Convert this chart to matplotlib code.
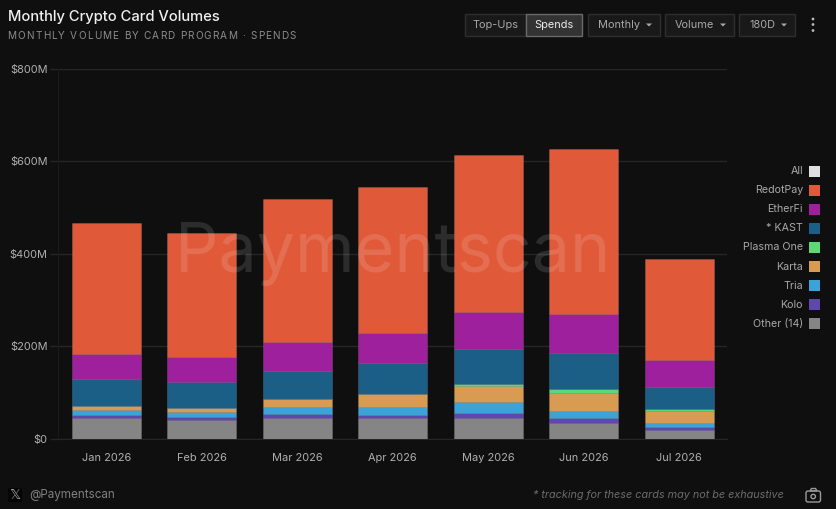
import matplotlib
matplotlib.use("Agg")
import matplotlib.pyplot as plt
from matplotlib.font_manager import FontProperties
from matplotlib.patches import Rectangle, FancyBboxPatch, Circle, Polygon
from matplotlib.textpath import TextToPath

months = ["Jan 2026", "Feb 2026", "Mar 2026", "Apr 2026", "May 2026", "Jun 2026", "Jul 2026"]

# $M per month, stacked from the bottom up
other = [46, 41, 46, 44, 46, 34, 18]
kolo = [5, 6, 8, 8.5, 9.5, 11, 7]
tria = [11, 11, 15, 16, 24, 15, 9]
karta = [9, 8, 17, 27.5, 34, 39, 26]
plasma = [0, 0, 0, 0, 4, 8, 5.5]
kast = [58, 57, 60, 68, 77, 78, 47.5]
etherfi = [54, 53, 63, 65, 79, 84, 57]
redotpay = [283, 269, 310, 316, 340, 357, 219]

series = [other, kolo, tria, karta, plasma, kast, etherfi, redotpay]
colors = ["#858585", "#5f48ab", "#3ba3d8", "#d99a52", "#5cd877", "#1c5f86", "#9f209c", "#e05a3a"]

yticks = [0, 200, 400, 600, 800]
ylabels = ["$0", "$200M", "$400M", "$600M", "$800M"]

legend_names = ["All", "RedotPay", "EtherFi", "* KAST", "Plasma One", "Karta", "Tria", "Kolo", "Other (14)"]
legend_colors = ["#e0e0e0", "#e05a3a", "#9f209c", "#1c5f86", "#5cd877", "#d99a52", "#3ba3d8", "#5f48ab", "#858585"]

BG = "#0f0f0f"
W, H = 837, 509
plt.rcParams["font.family"] = ["Inter", "DejaVu Sans"]

fig = plt.figure(figsize=(W / 100, H / 100), dpi=100, facecolor=BG)

# chart area, in pixels from the reference
ax = fig.add_axes([58.5 / W, 1 - 438.8 / H, 668.5 / W, 370 / H], facecolor=BG)
bottom = [0] * len(months)
for vals, col in zip(series, colors):
    ax.bar(range(len(months)), vals, width=0.72, bottom=bottom, color=col,
           edgecolor="#ffffff1c", linewidth=0.7, zorder=3)
    bottom = [b + v for b, v in zip(bottom, vals)]

ax.set_xlim(-0.5, 6.5)
ax.set_ylim(0, 800)
ax.set_yticks(yticks, ylabels)
ax.set_xticks(range(len(months)), months)
ax.grid(axis="y", color="#262626", linewidth=1, zorder=0)
ax.tick_params(axis="y", length=5.8, width=1, color="#262626", labelcolor="#b0b0b0", labelsize=7.9, pad=2)
ax.tick_params(axis="x", length=0, labelcolor="#b0b0b0", labelsize=7.9, pad=10.5)
for name, sp in ax.spines.items():
    sp.set_visible(name in ("left", "bottom"))
    sp.set_color("#1a1a1a" if name == "left" else "#262626")

# everything else is placed in pixel coordinates on a top layer
ov = fig.add_axes([0, 0, 1, 1], facecolor="none")
ov.set_xlim(0, W)
ov.set_ylim(H, 0)
ov.axis("off")


def spaced_text(x, y, s, size, tracking, color):
    # matplotlib has no letter spacing, so lay the characters out one by one
    prop = FontProperties(family="Inter", size=size)
    ttp = TextToPath()
    for i, ch in enumerate(s):
        w = ttp.get_text_width_height_descent(s[:i] + "x", prop, False)[0]
        wx = ttp.get_text_width_height_descent("x", prop, False)[0]
        px = (w - wx) * 100 / 72
        ov.text(x + px + i * tracking, y, ch, color=color, fontproperties=prop, va="center")


ov.text(393, 254, "Paymentscan", color="#ffffff", alpha=0.12, fontsize=49, ha="center", va="center")

ov.text(8, 17, "Monthly Crypto Card Volumes", color="#f0f0f0", fontsize=10.6, va="center", fontweight="medium")
spaced_text(7.5, 36, "MONTHLY VOLUME BY CARD PROGRAM · SPENDS", 7.2, 1.16, "#8c8c8c")

# controls
buttons = [("Top-Ups", 465, 526), ("Monthly", 588, 660), ("Volume", 665, 734), ("180D", 739, 795)]
for label, x0, x1 in buttons:
    ov.add_patch(Rectangle((x0, 14), x1 - x0, 21.5, fc="#191919", ec="#2e2e2e", lw=1))
    arrow = label != "Top-Ups"
    tx = (x0 + x1) / 2 - (5 if arrow else 0)
    ov.text(tx, 24.5, label, color="#a8a8a8", fontsize=7.9, ha="center", va="center")
    if arrow:
        ax1 = x1 - 11
        ov.add_patch(Polygon([(ax1 - 3, 23.5), (ax1 + 3, 23.5), (ax1, 26.5)], fc="#a8a8a8", ec="none"))
ov.add_patch(Rectangle((526, 14), 56.5, 21.5, fc="#333333", ec="#6a6a6a", lw=1))
ov.text(554, 24.5, "Spends", color="#ececec", fontsize=7.9, ha="center", va="center")
for y in (19, 24.5, 30.5):
    ov.add_patch(Circle((813, y), 1.4, fc="#b8b8b8", ec="none"))

# legend
for i, (name, col) in enumerate(zip(legend_names, legend_colors)):
    y = 171 + i * 19.1
    ov.text(803, y, name, color="#a8a8a8", fontsize=7.7, ha="right", va="center")
    ov.add_patch(Rectangle((809, y - 5.5), 11, 11, fc=col, ec="none"))

# footer
ov.add_patch(FancyBboxPatch((8, 488), 14, 14, boxstyle="round,pad=0,rounding_size=2", fc="#050505", ec="none"))
ov.text(15, 495, "𝕏", color="#9a9a9a", fontsize=10, ha="center", va="center", family="DejaVu Sans")
ov.text(29, 495, "@Paymentscan", color="#808080", fontsize=8.4, va="center")
ov.text(784, 495, "* tracking for these cards may not be exhaustive", color="#6c6c6c",
        fontsize=7.8, style="italic", ha="right", va="center")

# camera icon
ov.add_patch(FancyBboxPatch((806, 491), 14.5, 11, boxstyle="round,pad=0,rounding_size=2", fc="none", ec="#9a9a9a", lw=1))
ov.add_patch(Polygon([(810, 491), (811.5, 488.5), (815.5, 488.5), (817, 491)], fc="none", ec="#9a9a9a", lw=1))
ov.add_patch(Circle((813.2, 496.5), 2.2, fc="none", ec="#9a9a9a", lw=1))

fig.savefig("out.png", dpi=100, facecolor=BG)
